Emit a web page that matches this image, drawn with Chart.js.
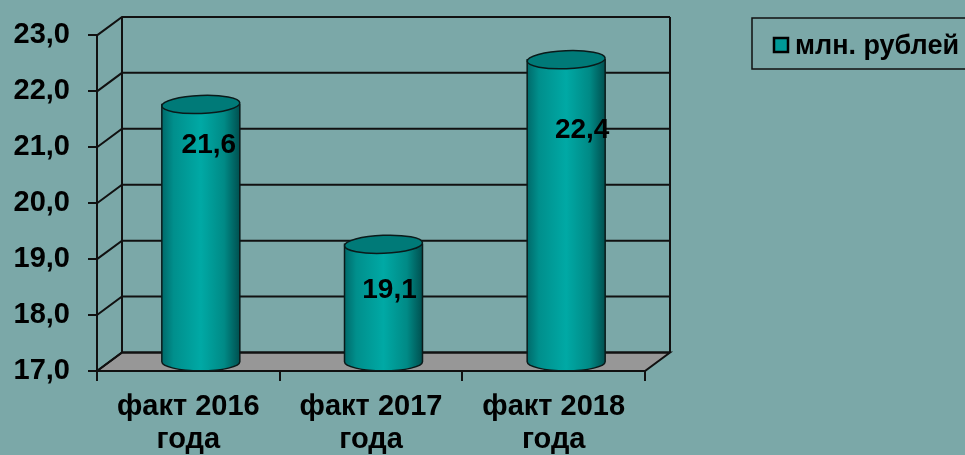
<!DOCTYPE html>
<html>
<head>
<meta charset="utf-8">
<script src="https://cdn.jsdelivr.net/npm/chart.js@4"></script>
<style>
  html, body { margin: 0; padding: 0; background: #7ba8a8; }
  #wrap { width: 965px; height: 455px; }
</style>
</head>
<body>
<div id="wrap"><canvas id="chart" width="965" height="455"></canvas></div>
<script>
// данные
const categories = [['факт 2016', 'года'], ['факт 2017', 'года'], ['факт 2018', 'года']];
const values = [21.6, 19.1, 22.4];
const seriesName = 'млн. рублей';
const yMin = 17, yMax = 23, yStep = 1;

const BG = '#7ba8a8';
const FONT = '"Liberation Sans", Arial, sans-serif';
const DEPTH_X = 25, DEPTH_Y = -18.5; // сдвиг задней стенки

const fmt = v => v.toFixed(1).replace('.', ',');

// стенки, пол и сетка (псевдо-3D как в Excel)
const wallsPlugin = {
    id: 'walls',
    beforeDraw(chart) {
        const ctx = chart.ctx;
        ctx.save();
        ctx.fillStyle = BG;
        ctx.fillRect(0, 0, chart.width, chart.height);
        ctx.restore();
    },
    beforeDatasetsDraw(chart) {
        const ctx = chart.ctx;
        const a = chart.chartArea;
        const y = chart.scales.y;
        ctx.save();
        ctx.strokeStyle = '#111';
        ctx.lineWidth = 2;

        // пол
        const yb = y.getPixelForValue(yMin);
        ctx.beginPath();
        ctx.moveTo(a.left, yb);
        ctx.lineTo(a.left + DEPTH_X, yb + DEPTH_Y);
        ctx.lineTo(a.right + DEPTH_X, yb + DEPTH_Y);
        ctx.lineTo(a.right, yb);
        ctx.closePath();
        ctx.fillStyle = '#979797';
        ctx.fill();
        ctx.stroke();

        // линии сетки на задней стенке + диагонали боковой стенки
        y.ticks.forEach(t => {
            const py = y.getPixelForValue(t.value);
            ctx.beginPath();
            ctx.moveTo(a.left, py);
            ctx.lineTo(a.left + DEPTH_X, py + DEPTH_Y);
            ctx.lineTo(a.right + DEPTH_X, py + DEPTH_Y);
            ctx.stroke();
        });

        // вертикали задней стенки
        const top = y.getPixelForValue(yMax) + DEPTH_Y;
        const bot = yb + DEPTH_Y;
        ctx.beginPath();
        ctx.moveTo(a.left + DEPTH_X, top);
        ctx.lineTo(a.left + DEPTH_X, bot);
        ctx.moveTo(a.right + DEPTH_X, top);
        ctx.lineTo(a.right + DEPTH_X, bot);
        ctx.stroke();
        ctx.restore();
    }
};

// цилиндры и подписи значений
const cylinderPlugin = {
    id: 'cylinders',
    afterDatasetsDraw(chart) {
        const ctx = chart.ctx;
        const y = chart.scales.y;
        const meta = chart.getDatasetMeta(0);
        const labelShift = [[8, 41], [6, 46], [16, 71]];
        meta.data.forEach((bar, i) => {
            const cx = bar.x + DEPTH_X / 2;
            const rx = bar.width / 2;
            const ry = 9;
            const yTop = y.getPixelForValue(values[i]) + DEPTH_Y / 2;
            const yBot = y.getPixelForValue(yMin) + DEPTH_Y / 2;

            const g = ctx.createLinearGradient(cx - rx, 0, cx + rx, 0);
            g.addColorStop(0, '#006a6a');
            g.addColorStop(0.15, '#008f8c');
            g.addColorStop(0.5, '#00a9a5');
            g.addColorStop(0.8, '#008a86');
            g.addColorStop(1, '#005050');

            ctx.save();
            ctx.lineWidth = 1.5;
            ctx.strokeStyle = '#0a1a1a';
            // тело
            ctx.beginPath();
            ctx.moveTo(cx - rx, yTop);
            ctx.lineTo(cx - rx, yBot);
            ctx.ellipse(cx, yBot, rx, ry, 0, Math.PI, 0, true);
            ctx.lineTo(cx + rx, yTop);
            ctx.closePath();
            ctx.fillStyle = g;
            ctx.fill();
            ctx.stroke();
            // верх
            ctx.beginPath();
            ctx.ellipse(cx, yTop, rx, ry, -0.04, 0, Math.PI * 2);
            ctx.fillStyle = '#007a78';
            ctx.fill();
            ctx.stroke();

            // подпись
            ctx.fillStyle = '#000';
            ctx.font = 'bold 28px ' + FONT;
            ctx.textAlign = 'center';
            ctx.textBaseline = 'middle';
            ctx.fillText(fmt(values[i]), cx + labelShift[i][0], yTop + labelShift[i][1]);
            ctx.restore();
        });
    },
    afterDraw(chart) {
        // легенда
        const ctx = chart.ctx;
        ctx.save();
        ctx.strokeStyle = '#111';
        ctx.lineWidth = 1.5;
        ctx.strokeRect(752, 18, 240, 51);
        ctx.fillStyle = '#009a98';
        ctx.fillRect(773, 37, 16, 16);
        ctx.lineWidth = 2.5;
        ctx.strokeStyle = '#000';
        ctx.strokeRect(774, 38, 14, 14);
        ctx.fillStyle = '#000';
        ctx.font = 'bold 27px ' + FONT;
        ctx.textAlign = 'left';
        ctx.textBaseline = 'alphabetic';
        ctx.fillText(seriesName, 795, 54);
        ctx.restore();
    }
};

new Chart(document.getElementById('chart'), {
    type: 'bar',
    data: {
        labels: categories,
        datasets: [{
            label: seriesName,
            data: values,
            backgroundColor: 'rgba(0,0,0,0)',
            borderWidth: 0,
            barPercentage: 0.427,
            categoryPercentage: 1
        }]
    },
    options: {
        responsive: false,
        animation: false,
        layout: { padding: { top: 31, right: 320, left: 0, bottom: 0 } },
        plugins: {
            legend: { display: false },
            tooltip: { enabled: false }
        },
        scales: {
            y: {
                min: yMin,
                max: yMax,
                ticks: {
                    stepSize: yStep,
                    color: '#000',
                    padding: 18,
                    font: { family: FONT, size: 29, weight: 'bold' },
                    callback: v => fmt(v)
                },
                grid: { drawOnChartArea: false, tickLength: 9, color: '#111', lineWidth: 2 },
                border: { color: '#111', width: 2 },
                afterFit: s => { s.width = 97; }
            },
            x: {
                ticks: {
                    color: '#000',
                    padding: 9,
                    maxRotation: 0,
                    font: { family: FONT, size: 29, weight: 'bold', lineHeight: 1.14 }
                },
                grid: { drawOnChartArea: false, offset: true, tickLength: 10, color: '#111', lineWidth: 2 },
                border: { color: '#111', width: 2 },
                afterFit: s => { s.height = 84; }
            }
        }
    },
    plugins: [wallsPlugin, cylinderPlugin]
});
</script>
</body>
</html>
